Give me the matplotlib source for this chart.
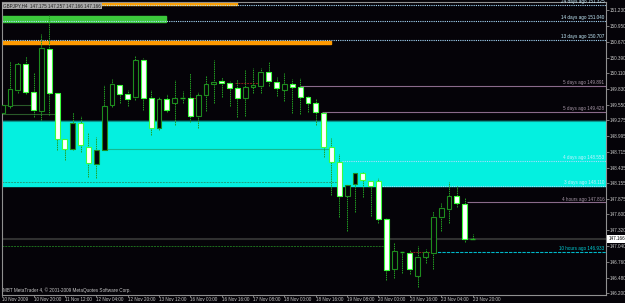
import matplotlib
matplotlib.use("Agg")
import matplotlib.pyplot as plt
import matplotlib.transforms as mtransforms
from matplotlib.patches import Rectangle

# GBPJPY H4 candles
opens = [149.410, 149.534, 149.819, 150.275, 149.772, 149.440, 150.547, 149.755, 148.942, 148.759,
         149.221, 148.805, 148.503, 148.747, 149.541, 149.902, 149.737, 149.694, 150.347, 149.676,
         149.133, 149.648, 149.577, 149.672, 149.666, 149.351, 149.719, 149.920, 149.968, 149.938,
         149.844, 149.666, 149.867, 149.890, 150.128, 149.961, 149.813, 149.915, 149.872, 149.694,
         149.577, 149.410, 148.795, 148.528, 147.934, 148.137, 148.333, 148.190, 148.201, 147.515,
         146.632, 146.930, 146.921, 146.507, 146.840, 146.921, 147.551, 147.698, 147.929, 147.792,
         147.175]
highs = [149.582, 150.334, 150.316, 150.418, 150.121, 150.803, 151.146, 149.762, 148.950, 149.428,
         149.351, 149.044, 148.983, 149.902, 150.009, 149.910, 149.813, 150.418, 150.377, 149.813,
         149.694, 149.742, 149.991, 149.801, 150.110, 149.783, 150.062, 150.347, 150.039, 149.973,
         150.003, 150.169, 150.199, 150.199, 150.306, 150.050, 150.110, 150.009, 150.021, 149.712,
         149.648, 149.428, 148.955, 148.676, 148.140, 148.350, 148.361, 148.200, 148.244, 147.533,
         147.088, 146.946, 146.969, 147.040, 146.982, 147.663, 147.799, 148.183, 148.107, 147.888,
         147.257]
lows = [149.387, 149.488, 149.755, 149.742, 149.339, 149.280, 149.369, 148.747, 148.569, 148.750,
        148.717, 148.272, 148.244, 148.740, 149.516, 149.577, 149.534, 149.636, 149.458, 149.013,
        149.102, 149.428, 149.191, 149.577, 149.250, 149.133, 149.445, 149.577, 149.684, 149.534,
        149.339, 149.351, 149.765, 149.755, 149.890, 149.712, 149.618, 149.410, 149.387, 149.428,
        149.191, 148.628, 147.947, 147.561, 147.312, 147.650, 147.917, 147.574, 147.444, 146.436,
        146.466, 146.555, 146.543, 146.306, 146.744, 146.637, 147.312, 147.455, 147.739, 147.117,
        147.166]
closes = [149.541, 149.826, 150.275, 149.772, 149.452, 150.554, 149.755, 148.948, 148.759, 149.232,
          148.830, 148.510, 148.747, 149.529, 149.915, 149.737, 149.653, 150.347, 149.676, 149.133,
          149.648, 149.452, 149.666, 149.678, 149.351, 149.724, 149.920, 149.955, 149.932, 149.854,
          149.666, 149.872, 149.897, 150.128, 149.973, 149.844, 149.915, 149.872, 149.684, 149.577,
          149.417, 148.795, 148.539, 147.934, 148.125, 148.333, 148.214, 148.107, 147.520, 146.614,
          146.946, 146.940, 146.632, 146.845, 146.928, 147.551, 147.711, 147.934, 147.799, 147.159,
          147.166]

xtick_bars = [0, 4, 8, 12, 16, 20, 24, 28, 32, 36, 40, 44, 48, 52, 56, 60]
xtick_labels = ["10 Nov 2009", "10 Nov 20:00", "11 Nov 12:00", "12 Nov 04:00", "12 Nov 20:00",
                "13 Nov 12:00", "16 Nov 00:00", "16 Nov 16:00", "17 Nov 08:00", "18 Nov 00:00",
                "18 Nov 16:00", "19 Nov 08:00", "20 Nov 00:00", "20 Nov 16:00", "23 Nov 04:00",
                "23 Nov 20:00"]
price_ticks = [151.230, 150.950, 150.670, 150.390, 150.110, 149.830, 149.550, 149.275, 148.995,
               148.715, 148.435, 148.155, 147.875, 147.600, 147.320, 147.040, 146.760, 146.480,
               146.200]

# "N days ago" levels
level_labels = ["24 days ago 151.325", "14 days ago 151.040", "13 days ago 150.707",
                "5 days ago 149.891", "5 days ago 149.428", "4 days ago 148.553",
                "3 days ago 148.110", "4 hours ago 147.816", "10 hours ago 146.933"]
level_prices = [151.325, 151.040, 150.707, 149.891, 149.428, 148.553, 148.110, 147.816, 146.933]
level_start = [0, 0, 0, 38, 40.8, 43.3, 47.9, 59.3, 55]

# zones
zone_low, zone_high = 148.100, 149.265
green_bar = (151.022, 151.129, 20.9)
orange_top = (151.324, 151.395, 29.9)
orange_mid = (150.631, 150.684, 42.0)
last_price = 147.166
title = "GBPJPY,H4  147.175 147.257 147.166 147.166"

BG = "#050308"
TXT = "#c8c8c8"
PURPLE = "#8a6a8a"

plt.rcParams["font.family"] = ["Liberation Sans", "DejaVu Sans"]

fig = plt.figure(figsize=(6.25, 3.03), dpi=100, facecolor=BG)
ax = fig.add_axes([2 / 625, 8 / 303, 604 / 625, 293 / 303], facecolor=BG)
ax.set_xlim(-0.026, 77.02)
ax.set_ylim(146.169, 151.377)

# rectangles
ax.add_patch(Rectangle((-1, zone_low), 80, zone_high - zone_low, color="#04f0e0", zorder=1))
ax.axhline(zone_high, color="#0a9a90", lw=0.8, zorder=1.1)
for lo, hi, end, col in [(*green_bar, "#3cc83c"), (*orange_top, "#ffa000"), (*orange_mid, "#ff9a00")]:
    ax.add_patch(Rectangle((-1, lo), end + 1, hi - lo, color=col, zorder=1.2))

# misc indicator lines
ax.hlines(149.541, -1, 4, color="#2a5a2a", lw=0.8, zorder=1.5)
ax.hlines(149.386, -1, 7, color="#2a5a2a", lw=0.8, zorder=1.5)
ax.hlines(148.759, 13.2, 42, color="#14b890", lw=0.8, zorder=1.5)
ax.hlines(148.173, -1, 43, color="#20a080", lw=0.7, ls=(0, (2, 1)), zorder=1.5)
ax.hlines(147.035, -1, 49, color="#1e6e1e", lw=0.7, ls=(0, (2, 1)), zorder=1.5)
ax.hlines(last_price, -1, 80, color="#303030", lw=1.5, zorder=1.5)
for y, a, b in [(149.932, 29.7, 32.6), (149.666, 23.7, 24.9), (146.928, 52, 55)]:
    ax.hlines(y, a, b, color="#8b1a1a", lw=0.7, ls=(0, (2, 1)), zorder=1.5)

# levels
for i, (lab, p, s) in enumerate(zip(level_labels, level_prices, level_start)):
    if "4 days" in lab or "3 days" in lab:
        col, tcol, ls = "#a8dcff", "#c8f0ff", (0, (1, 1))
    elif "10 hours" in lab:
        col, tcol, ls = "#00b8c8", "#00d0d8", (0, (3, 1))
    elif i in (0, 2):
        col, tcol, ls = PURPLE, "#a898a8", (0, (1, 1))
    else:
        col, tcol, ls = PURPLE, "#a898a8", "-"
    ax.hlines(p, s, 80, color=col, lw=0.8, ls=ls, zorder=1.6)
    ax.annotate(lab, (76.8, p), xytext=(0, 0.6), textcoords="offset points", color=tcol,
                fontsize=3.3, ha="right", va="bottom", zorder=5)

# candles
w = 0.62
for i, (o, h, l, c) in enumerate(zip(opens, highs, lows, closes)):
    ax.vlines(i, l, h, color="#22a022", lw=0.7, ls=(0, (1.5, 0.8)), zorder=2)
    bear = c < o
    lo, hi = min(o, c), max(o, c)
    if hi - lo < 0.012:
        ax.hlines((o + c) / 2, i - w / 2, i + w / 2, color="#22b022", lw=1.0, zorder=3)
        continue
    if bear:
        ax.add_patch(Rectangle((i - w / 2, lo), w, hi - lo, facecolor="white",
                               edgecolor="#3cff3c", lw=0.8, zorder=3))
    else:
        ax.add_patch(Rectangle((i - w / 2, lo), w, hi - lo, facecolor=BG,
                               edgecolor="#1e8c1e", lw=0.8, zorder=3))

# axes
ax.yaxis.tick_right()
ax.set_yticks(price_ticks)
ax.set_yticklabels([f"{t:.3f}" for t in price_ticks])
ax.set_xticks(xtick_bars)
ax.set_xticklabels(xtick_labels)
for t in ax.get_xticklabels():
    t.set_ha("left")
ax.tick_params(axis="both", colors="#909090", labelcolor=TXT, labelsize=3.3, width=0.6)
ax.tick_params(axis="x", length=1.2, pad=0.4)
ax.tick_params(axis="y", length=1.8, pad=0.6)
for sp in ax.spines.values():
    sp.set_color("#909090")
    sp.set_linewidth(0.8)

tr = mtransforms.blended_transform_factory(ax.transAxes, ax.transData)
ax.text(1.004, last_price, f"{last_price:.3f}", transform=tr, fontsize=3.3, color="black",
        ha="left", va="center", bbox=dict(boxstyle="square,pad=0.25", fc="white", ec="none"), zorder=6)

ax.text(0.002, 0.995, title, transform=ax.transAxes, fontsize=3.3, color="#202020", ha="left", va="top",
        bbox=dict(boxstyle="square,pad=0.2", fc="#a8a8a8", ec="none"), zorder=6)
ax.text(0.002, 0.018, "MBT MetaTrader 4, \u00a9 2001-2009 MetaQuotes Software Corp.", transform=ax.transAxes,
        fontsize=3.3, color=TXT, ha="left", va="center", zorder=6)

fig.savefig("out.png", dpi=100, facecolor=BG)
